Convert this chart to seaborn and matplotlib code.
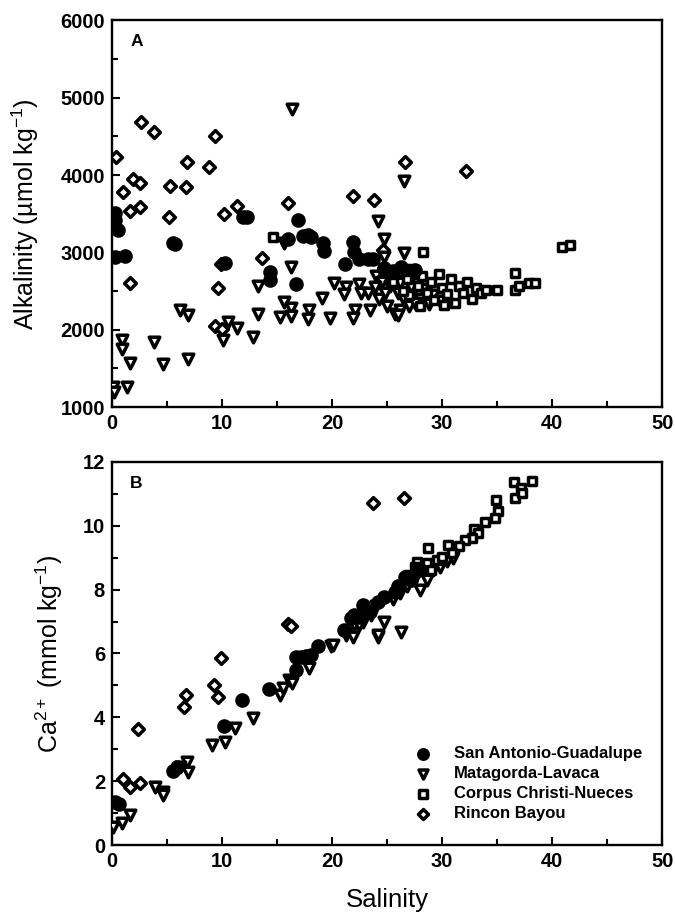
import matplotlib
matplotlib.use("Agg")
import matplotlib.pyplot as plt
from matplotlib.ticker import MultipleLocator
import seaborn as sns
import pandas as pd

# --- Panel A: alkalinity (umol/kg) vs salinity ---
sag_sal_a = [0.3, 0.3, 0.5, 0.3, 1.2, 5.5, 5.7, 11.9, 12.3, 16.9, 14.4, 14.4, 16.7, 16.0,
             17.4, 18.1, 19.2, 19.3, 21.9, 22.0, 21.2, 22.4, 23.3, 23.7, 24.7, 17.8,
             24.7, 26.3, 27.5, 25.5, 10.3]
sag_alk = [3505, 3415, 3285, 2940, 2950, 3120, 3110, 3455, 3455, 3415, 2745, 2640, 2590, 3170,
           3210, 3195, 3120, 3015, 3130, 3000, 2850, 2910, 2910, 2910, 2780, 3225,
           2800, 2810, 2770, 2760, 2860]

ml_sal_a = [16.4, 26.5, 24.2, 24.7, 24.7, 26.5, 16.3, 13.3, 15.6, 16.3, 19.1, 20.2, 21.3, 21.1,
            22.4, 22.6, 23.3, 23.4, 22.1, 21.9, 19.8, 17.9, 17.8, 15.3, 16.3, 13.3, 12.8,
            11.4, 10.5, 10.1, 6.2, 6.9, 3.8, 4.6, 6.9, 1.6, 0.9, 0.9, 0.1, 1.4, 0.2, 15.6,
            24.0, 24.5, 25.0, 25.3, 25.6, 26.0, 26.2, 26.5, 26.8, 27.0, 27.3, 27.7, 28.0,
            28.3, 25.0, 25.7, 24.3, 26.2, 27.5, 28.8, 29.2, 29.8, 23.9, 24.8, 26.0, 27.2]
ml_alk = [4850, 3920, 3405, 3170, 2940, 2990, 2810, 2565, 2360, 2280, 2410, 2600, 2550, 2460,
          2590, 2470, 2470, 2250, 2250, 2150, 2150, 2250, 2140, 2160, 2175, 2200, 1905,
          2020, 2100, 1865, 2250, 2190, 1840, 1555, 1620, 1570, 1865, 1750, 1260, 1260, 1195, 3120,
          2700, 2620, 2750, 2560, 2680, 2480, 2600, 2380, 2700, 2300, 2480, 2600, 2400,
          2520, 2300, 2200, 2400, 2250, 2350, 2330, 2450, 2370, 2550, 2480, 2190, 2550]

cc_sal_a = [14.6, 28.3, 26.0, 26.8, 27.2, 27.8, 28.2, 28.6, 29.0, 29.3, 29.7, 30.0, 30.4, 30.8,
            31.2, 31.5, 31.9, 32.3, 32.7, 33.1, 33.5, 34.0, 35.0, 36.6, 36.6, 37.0, 37.9,
            38.4, 40.9, 41.6, 27.0, 28.0, 30.2, 26.4, 25.5]
cc_alk = [3200, 3000, 2740, 2650, 2780, 2560, 2700, 2470, 2620, 2380, 2720, 2540, 2460, 2650,
          2350, 2560, 2480, 2620, 2400, 2540, 2470, 2510, 2510, 2730, 2510, 2560, 2600,
          2600, 3070, 3090, 2450, 2300, 2320, 2500, 2620]

rb_sal_a = [0.4, 2.6, 3.8, 9.4, 6.8, 8.8, 1.9, 2.5, 1.0, 5.3, 6.7, 2.5, 1.6, 5.2, 10.2, 11.4,
            16.0, 21.9, 23.8, 13.6, 9.9, 1.6, 9.6, 9.4, 10.0, 26.6, 32.2, 24.6]
rb_alk = [4230, 4680, 4550, 4500, 4165, 4100, 3945, 3900, 3780, 3855, 3840, 3580, 3530, 3455,
          3500, 3600, 3640, 3730, 3675, 2925, 2850, 2600, 2535, 2045, 2010, 4165, 4050, 3030]

# --- Panel B: Ca2+ (mmol/kg) vs salinity ---
sag_sal_b = [0.3, 0.6, 5.5, 5.9, 10.2, 11.8, 14.3, 16.7, 16.7, 17.2, 17.6, 18.1, 18.7, 21.1,
             21.7, 22.4, 22.8, 24.7, 25.7, 22.0, 23.4, 24.2, 26.0, 26.6, 27.2, 27.8]
sag_ca = [1.35, 1.30, 2.32, 2.45, 3.73, 4.55, 4.89, 5.49, 5.89, 5.89, 5.92, 5.96, 6.24, 6.74,
          7.10, 7.15, 7.52, 7.77, 7.93, 7.20, 7.30, 7.60, 8.10, 8.40, 8.30, 8.60]

ml_sal_b = [0.1, 0.9, 1.6, 3.9, 4.6, 4.6, 6.8, 6.9, 6.2, 9.1, 10.3, 11.2, 12.8, 15.3, 15.5,
            16.1, 16.4, 17.9, 19.9, 21.3, 21.9, 24.2, 24.7, 26.3, 20.1, 24.2, 22.0, 22.8,
            23.5, 24.0, 25.5, 26.2, 26.8, 27.4, 28.0, 28.6, 29.2, 29.8, 30.4, 31.0, 22.4, 23.3]
ml_ca = [0.56, 0.69, 0.94, 1.82, 1.66, 1.57, 2.60, 2.29, 2.45, 3.13, 3.23, 3.67, 3.98, 4.70, 4.92,
         5.17, 5.08, 5.55, 6.24, 6.58, 6.52, 6.52, 6.99, 6.68, 6.27, 6.58, 6.90, 7.00,
         7.20, 7.50, 7.70, 7.90, 8.10, 8.30, 8.00, 8.30, 8.60, 8.70, 8.90, 9.00, 6.90, 7.30]

cc_sal_b = [36.5, 38.2, 37.2, 36.6, 37.3, 34.9, 35.1, 34.8, 33.9, 32.9, 33.3, 32.7, 32.1, 31.5,
            30.5, 30.9, 28.7, 27.7, 28.6, 29.5, 30.0, 28.1, 29.0, 26.9, 27.5]
cc_ca = [11.38, 11.41, 11.19, 10.88, 11.03, 10.81, 10.47, 10.25, 10.13, 9.91, 9.78, 9.62, 9.56, 9.37,
         9.40, 9.15, 9.31, 8.87, 8.84, 8.93, 9.03, 8.62, 8.62, 8.45, 8.70]

rb_sal_b = [23.7, 26.5, 16.0, 16.3, 9.9, 9.3, 9.6, 6.7, 6.5, 2.4, 1.0, 1.6, 2.5]
rb_ca = [10.72, 10.88, 6.93, 6.85, 5.86, 5.02, 4.64, 4.70, 4.33, 3.64, 2.07, 1.82, 1.94]

sites = ["San Antonio-Guadalupe", "Matagorda-Lavaca", "Corpus Christi-Nueces", "Rincon Bayou"]


def make_df(groups):
    rows = []
    for site, xs, ys in groups:
        rows += [(site, x, y) for x, y in zip(xs, ys)]
    return pd.DataFrame(rows, columns=["site", "salinity", "value"])


df_a = make_df([(sites[3], rb_sal_a, rb_alk), (sites[1], ml_sal_a, ml_alk),
                (sites[2], cc_sal_a, cc_alk), (sites[0], sag_sal_a, sag_alk)])
df_b = make_df([(sites[3], rb_sal_b, rb_ca), (sites[1], ml_sal_b, ml_ca),
                (sites[2], cc_sal_b, cc_ca), (sites[0], sag_sal_b, sag_ca)])

sns.set_theme(style="ticks")
plt.rcParams["font.family"] = ["Liberation Sans", "DejaVu Sans"]
plt.rcParams["mathtext.fontset"] = "custom"
plt.rcParams["mathtext.rm"] = "Liberation Sans"
plt.rcParams["mathtext.it"] = "Liberation Sans"
for key in ["text.color", "axes.labelcolor", "xtick.color", "ytick.color", "axes.edgecolor"]:
    plt.rcParams[key] = "black"

markers = {sites[0]: "o", sites[1]: "v", sites[2]: "s", sites[3]: "D"}
faces = {sites[0]: "black", sites[1]: "white", sites[2]: "white", sites[3]: "white"}
sizes = {sites[0]: 64, sites[1]: 58, sites[2]: 36, sites[3]: 36}

fig = plt.figure(figsize=(6.75, 9.23), dpi=100)
ax_a = fig.add_axes([0.166, 0.559, 0.815, 0.419])
ax_b = fig.add_axes([0.166, 0.0845, 0.815, 0.415])


def draw(ax, df):
    # one call per site so every group keeps its own marker style
    for site in [sites[3], sites[1], sites[2], sites[0]]:
        sub = df[df["site"] == site]
        sns.scatterplot(data=sub, x="salinity", y="value", ax=ax, marker=markers[site],
                        s=sizes[site], color=faces[site], edgecolor="black",
                        linewidth=2.5, label=site, legend=False, zorder=3)


draw(ax_a, df_a)
draw(ax_b, df_b)

ax_a.set_ylim(1000, 6000)
ax_a.yaxis.set_major_locator(MultipleLocator(1000))
ax_a.yaxis.set_minor_locator(MultipleLocator(500))
ax_b.set_ylim(0, 12)
ax_b.yaxis.set_major_locator(MultipleLocator(2))
ax_b.yaxis.set_minor_locator(MultipleLocator(1))

for ax in (ax_a, ax_b):
    ax.set_xlim(0, 50)
    ax.xaxis.set_major_locator(MultipleLocator(10))
    ax.xaxis.set_minor_locator(MultipleLocator(5))
    ax.tick_params(which="both", direction="in", top=False, right=False, width=1.5)
    ax.tick_params(which="major", length=6, labelsize=14.5, pad=5)
    ax.tick_params(which="minor", length=4)
    for lab in ax.get_xticklabels() + ax.get_yticklabels():
        lab.set_fontweight("bold")
    for sp in ax.spines.values():
        sp.set_linewidth(1.7)
        sp.set_visible(True)
    ax.set_xlabel("")

ax_a.set_ylabel(r"Alkalinity (µmol kg$^{-1}$)", fontsize=18, labelpad=14)
ax_b.set_ylabel(r"Ca$^{2+}$ (mmol kg$^{-1}$)", fontsize=18, labelpad=13)
ax_b.set_xlabel("Salinity", fontsize=18.5, labelpad=12)

ax_a.text(0.033, 0.945, "A", transform=ax_a.transAxes, fontsize=12.5, fontweight="bold", va="center")
ax_b.text(0.033, 0.945, "B", transform=ax_b.transAxes, fontsize=12.5, fontweight="bold", va="center")

handles, labels = ax_b.get_legend_handles_labels()
order = [labels.index(s) for s in sites]
leg = ax_b.legend([handles[i] for i in order], [labels[i] for i in order],
                  loc="lower left", bbox_to_anchor=(0.522, 0.045), frameon=False,
                  fontsize=12, labelspacing=0.3, handletextpad=0.9, borderaxespad=0,
                  markerscale=0.85)
for t in leg.get_texts():
    t.set_fontweight("bold")

fig.savefig("out.png", dpi=100, facecolor="white")
